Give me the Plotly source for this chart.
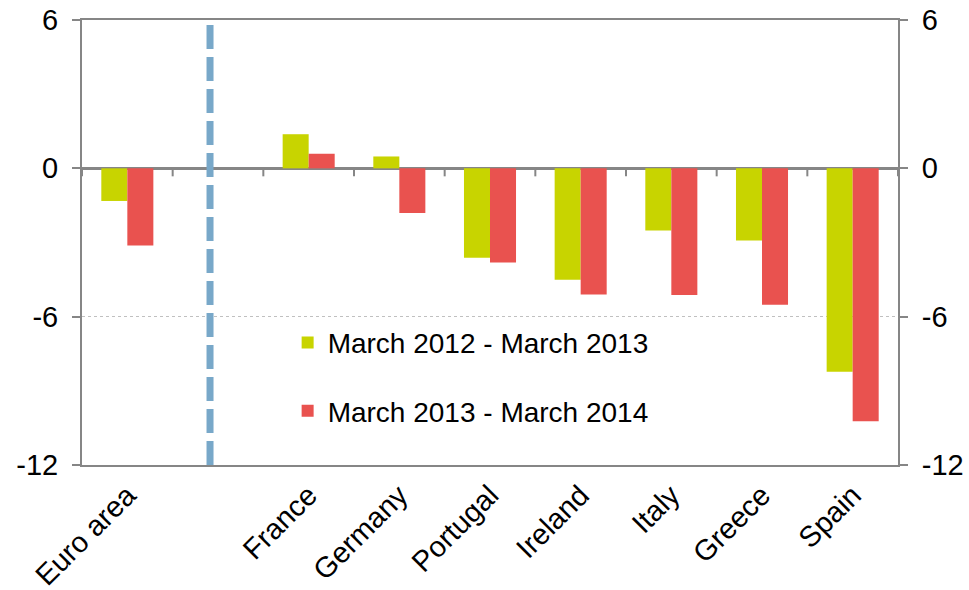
import plotly.graph_objects as go

categories = ["Euro area", " ", "France", "Germany", "Portugal", "Ireland", "Italy", "Greece", "Spain"]
series_2012_2013 = [-1.32, None, 1.38, 0.48, -3.62, -4.51, -2.51, -2.92, -8.23]
series_2013_2014 = [-3.12, None, 0.59, -1.81, -3.81, -5.10, -5.12, -5.52, -10.23]
series_names = ["March 2012 - March 2013", "March 2013 - March 2014"]
y_ticks = [-12, -6, 0, 6]
y_tick_labels = ["-12", "-6", "0", "6"]
divider_position = 0.912  # category-index position of the dashed separator

GREEN = "#c8d400"
RED = "#e9524f"
AXIS = "#868686"
FONT = "Liberation Sans, Arial, sans-serif"

fig = go.Figure()
fig.add_trace(go.Bar(x=categories, y=series_2012_2013, name=series_names[0],
                     marker=dict(color=GREEN, line=dict(width=0)), legendgroup="a"))
fig.add_trace(go.Bar(x=categories, y=series_2013_2014, name=series_names[1],
                     marker=dict(color=RED, line=dict(width=0)), legendgroup="b"))
# invisible trace to activate the right axis
fig.add_trace(go.Scatter(x=[categories[0]], y=[0], yaxis="y2", mode="markers",
                         marker=dict(opacity=0), showlegend=False, hoverinfo="skip"))

shapes = []
# dashed separator
shapes.append(dict(type="line", xref="x", yref="y", x0=divider_position, x1=divider_position,
                   y0=y_ticks[0], y1=y_ticks[-1],
                   line=dict(color="#78a8c9", width=7, dash="24px,8px"), layer="above"))
# category boundary ticks on the zero line
for i in range(len(categories) + 1):
    shapes.append(dict(type="line", xref="x", yref="y", ysizemode="pixel", yanchor=0,
                       x0=i - 0.5, x1=i - 0.5, y0=0, y1=-8,
                       line=dict(color=AXIS, width=2)))

yaxis_common = dict(range=[y_ticks[0], y_ticks[-1]], tickvals=y_ticks, ticktext=y_tick_labels,
                    ticks="outside", ticklen=8, tickcolor=AXIS, tickwidth=2,
                    showline=True, linecolor=AXIS, linewidth=2,
                    tickfont=dict(size=29, color="black", family=FONT),
                    ticklabelstandoff=8, ticklabeloverflow="allow")

fig.update_layout(
    width=969, height=590,
    margin=dict(l=82, r=71, t=20, b=125, autoexpand=False),
    paper_bgcolor="white", plot_bgcolor="white",
    barmode="group", bargap=0.426, bargroupgap=0,
    font=dict(family=FONT, color="black"),
    xaxis=dict(type="category", categoryorder="array", categoryarray=categories,
               range=[-0.5, len(categories) - 0.5],
               showline=True, linecolor=AXIS, linewidth=1.5, mirror=True,
               ticks="", tickangle=-45, showgrid=False, ticklabeloverflow="allow",
               tickfont=dict(size=29, color="black", family=FONT)),
    yaxis=dict(**yaxis_common, showgrid=True, gridcolor="#c0c0c0", griddash="dot", gridwidth=1,
               zeroline=True, zerolinecolor=AXIS, zerolinewidth=2.5),
    yaxis2=dict(**yaxis_common, overlaying="y", side="right", showgrid=False, zeroline=False),
    legend=dict(x=0.252, y=0.331, xanchor="left", yanchor="top",
                bgcolor="rgba(0,0,0,0)", traceorder="grouped", tracegroupgap=29,
                font=dict(size=28, color="black", family=FONT)),
    shapes=shapes,
    showlegend=True,
)

fig.write_html("out.html",
               config={"displayModeBar": False},
               post_script="document.body.style.margin='0';"
                           "document.documentElement.style.overflow='hidden';")
